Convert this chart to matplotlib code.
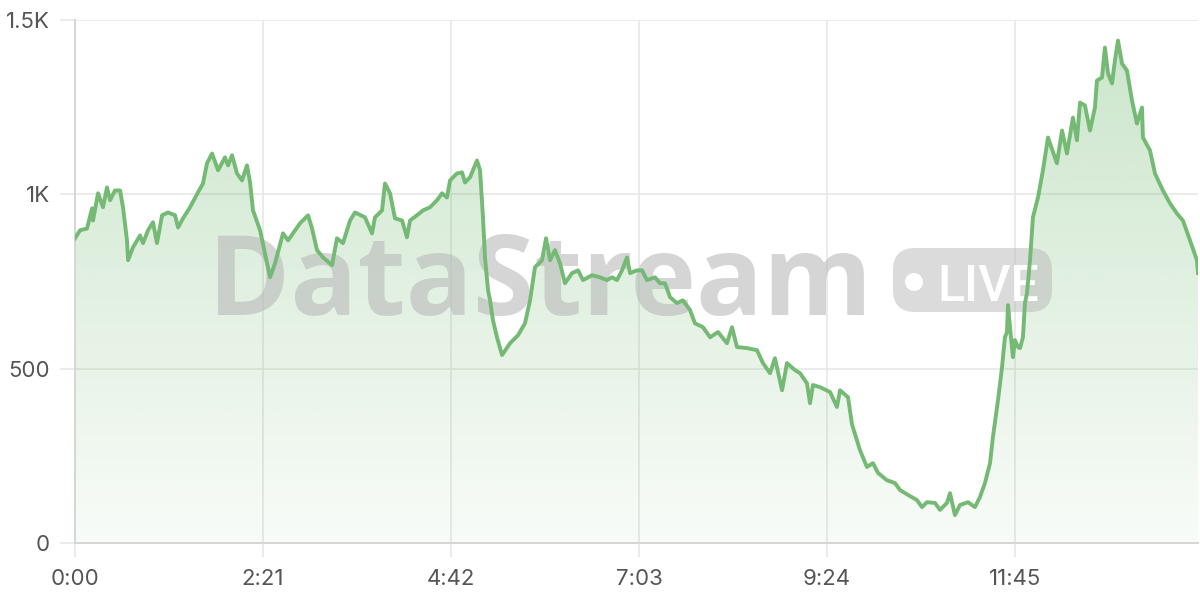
import numpy as np
import matplotlib
matplotlib.use("Agg")
import matplotlib.pyplot as plt
import matplotlib.transforms as mtransforms
from matplotlib.patches import Polygon, FancyBboxPatch, Circle
from matplotlib.colors import to_rgb
from matplotlib.ticker import FixedLocator, FuncFormatter

# minutes since start
minutes = [0, 3.8, 9, 12.8, 13.5, 17.3, 21, 24, 26.3, 30, 33.8, 36, 39, 39.8, 43.5,
           48.8, 51, 54.8, 58.5, 61.5, 65.3, 69.8, 75, 77.3, 81, 86.3, 92.3, 96, 99,
           102.8, 107.3, 112.5, 114.8, 117.8, 121.5, 125.3, 129, 131.3, 133.5, 138.8,
           142.5, 146.3, 150, 156, 159.8, 168.8, 174.8, 177.8, 181.5, 186, 192.8,
           196.5, 201, 206.3, 210, 217.5, 222.8, 225, 230.3, 232.5, 236.3, 240, 245.3,
           249, 251.3, 256.5, 261, 266.3, 271.5, 275.3, 279, 281.3, 286.5, 290.3,
           292.5, 296.3, 301.5, 303.8, 306, 307.5, 309.8, 311.3, 313.5, 316.5, 320.3,
           326.3, 332.3, 337.5, 341.3, 345, 350.3, 353.3, 356.3, 360, 363.8, 367.5,
           372.8, 377.3, 381, 387.8, 393.8, 399, 402.8, 406.5, 410.3, 414, 416.3,
           421.5, 425.3, 429, 435, 438.8, 442.5, 446.3, 451.5, 456, 461.3, 465, 471,
           476.3, 482.3, 489, 492.8, 496.5, 504, 511.5, 516, 521.3, 525, 530.3, 534,
           540, 543.8, 549, 551.3, 553.5, 558.8, 566.3, 571.5, 573.8, 579.8, 582.8,
           586.5, 588.8, 594, 598.5, 602.3, 609, 615, 618.8, 624.8, 631.5, 635.3, 639,
           645, 648.8, 654, 656.3, 660, 663.8, 669.8, 675, 678.8, 682.5, 686.3, 688.5,
           692.3, 695.3, 697.5, 699, 699.8, 701.3, 703.5, 705, 707.3, 708.8, 711,
           712.5, 714, 716.3, 718.5, 722.3, 726, 729.8, 736.5, 740.3, 744, 748.5,
           751.5, 753.8, 757.5, 761.3, 765, 766.5, 770.3, 772.5, 774.8, 777.8, 780,
           782.3, 785.3, 789, 792.8, 796.5, 800.3, 801, 806.3, 810, 816, 821.3, 826.5,
           831, 836.3, 841.5, 842.3]
values = [874, 897, 902, 960, 925, 1003, 963, 1020, 983, 1011, 1011, 963, 868, 811, 848,
          882, 860, 897, 920, 860, 940, 948, 940, 905, 931, 963, 1006, 1031, 1089,
          1117, 1069, 1106, 1083, 1112, 1060, 1040, 1083, 1034, 954, 897,
          831, 762, 802, 888, 868, 917, 940, 902, 840, 819, 797,
          874, 860, 925, 948, 934, 888, 934, 954, 1031, 1003, 931, 925,
          877, 925, 940, 954, 963, 983, 1003, 991, 1040, 1060, 1063,
          1034, 1049, 1097, 1069, 934, 819, 725, 696, 639, 590, 539,
          573, 596, 630, 696, 791, 811, 874, 811, 840, 802, 745,
          774, 782, 754, 768, 762, 754, 762, 754, 782, 819, 774,
          782, 782, 754, 762, 745, 745, 705, 688, 696, 668, 630, 619,
          590, 605, 573, 619, 562, 559, 553, 516, 487, 530, 438, 516,
          496, 487, 458, 401, 453, 447, 433, 390, 438, 418, 340,
          295, 266, 218, 229, 201, 180, 172, 152, 138, 123, 103, 117,
          115, 95, 115, 143, 80, 109, 117, 103, 132, 172, 229, 304,
          410, 504, 590, 605, 682, 619, 533, 582, 562, 559, 590,
          688, 716, 811, 934, 991, 1069, 1163, 1089, 1183, 1117, 1220,
          1155, 1263, 1255, 1183, 1249, 1326, 1335, 1421, 1347, 1318, 1384,
          1441, 1375, 1355, 1269, 1203, 1249, 1163, 1126, 1060, 1011, 974,
          945, 925, 868, 811, 774]

x_ticks = [0, 141, 282, 423, 564, 705]
x_labels = ["0:00", "2:21", "4:42", "7:03", "9:24", "11:45"]
y_ticks = [0, 500, 1000, 1500]
y_labels = ["0", "500", "1K", "1.5K"]

green = "#74ba74"
label_col = "#555555"
grid_col = "#e8e8e8"

plt.rcParams['font.family'] = ['Inter', 'DejaVu Sans']

fig = plt.figure(figsize=(12, 6), dpi=100)
ax = fig.add_axes([75 / 1200, 57 / 600, 1123 / 1200, 523 / 600])
xmax = minutes[-1]

# gradient fill under the line
verts = np.column_stack([np.r_[minutes[0], minutes, minutes[-1]],
                         np.r_[0, values, 0]])
poly = Polygon(verts, closed=True, facecolor="none", edgecolor="none")
ax.add_patch(poly)
grad = np.linspace(0, 1, 256)
rgba = np.zeros((256, 1, 4))
rgba[..., :3] = to_rgb(green)
rgba[..., 3] = (0.05 + 0.33 * grad).reshape(-1, 1)
im = ax.imshow(rgba, extent=[0, xmax, 0, 1500], origin="lower",
               aspect="auto", zorder=1, interpolation="bilinear")
im.set_clip_path(poly)

ax.plot(minutes, values, color=green, lw=2.8, zorder=4, solid_joinstyle="round")

# watermark, in pixel coords (top-left origin)
px = mtransforms.Affine2D().scale(1 / 1200, -1 / 600).translate(0, 1) + fig.transFigure
wm_col = "#b8b8b8"
ax.text(208, 315, "DataStream", transform=px, fontsize=80, fontweight="bold",
        family=["Open Sans", "Roboto", "DejaVu Sans"], color=wm_col, alpha=0.58,
        ha="left", va="baseline", zorder=2, clip_on=False)
badge = FancyBboxPatch((893, 248), 159, 64, boxstyle="round,pad=0,rounding_size=22",
                       transform=px, facecolor=wm_col, edgecolor="none",
                       alpha=0.5, zorder=2, clip_on=False)
ax.add_patch(badge)
ax.add_patch(Circle((914, 282), 9, transform=px, facecolor="white",
                    edgecolor="none", zorder=2.1, clip_on=False))
ax.text(937, 301, "LIVE", transform=px, fontsize=36, fontweight="medium",
        family=["Roboto", "DejaVu Sans"], color="white",
        ha="left", va="baseline", zorder=2.1, clip_on=False)

ax.set_xlim(0, xmax)
ax.set_ylim(0, 1500)
ax.xaxis.set_major_locator(FixedLocator(x_ticks))
ax.xaxis.set_major_formatter(FuncFormatter(lambda v, p: x_labels[x_ticks.index(int(round(v)))]))
ax.yaxis.set_major_locator(FixedLocator(y_ticks))
ax.yaxis.set_major_formatter(FuncFormatter(lambda v, p: y_labels[y_ticks.index(int(round(v)))]))

ax.grid(True, color=grid_col, lw=1.2, zorder=0)
ax.set_axisbelow(True)
for s in ["top", "right"]:
    ax.spines[s].set_visible(False)
for s in ["left", "bottom"]:
    ax.spines[s].set_color("#d6d6d6")
    ax.spines[s].set_linewidth(1.4)
ax.tick_params(axis="x", length=10, width=1.2, color=grid_col, pad=9,
               labelsize=16, labelcolor=label_col)
ax.tick_params(axis="y", length=11, width=1.2, color=grid_col, pad=7,
               labelsize=16, labelcolor=label_col)

fig.savefig("out.png", dpi=100)
